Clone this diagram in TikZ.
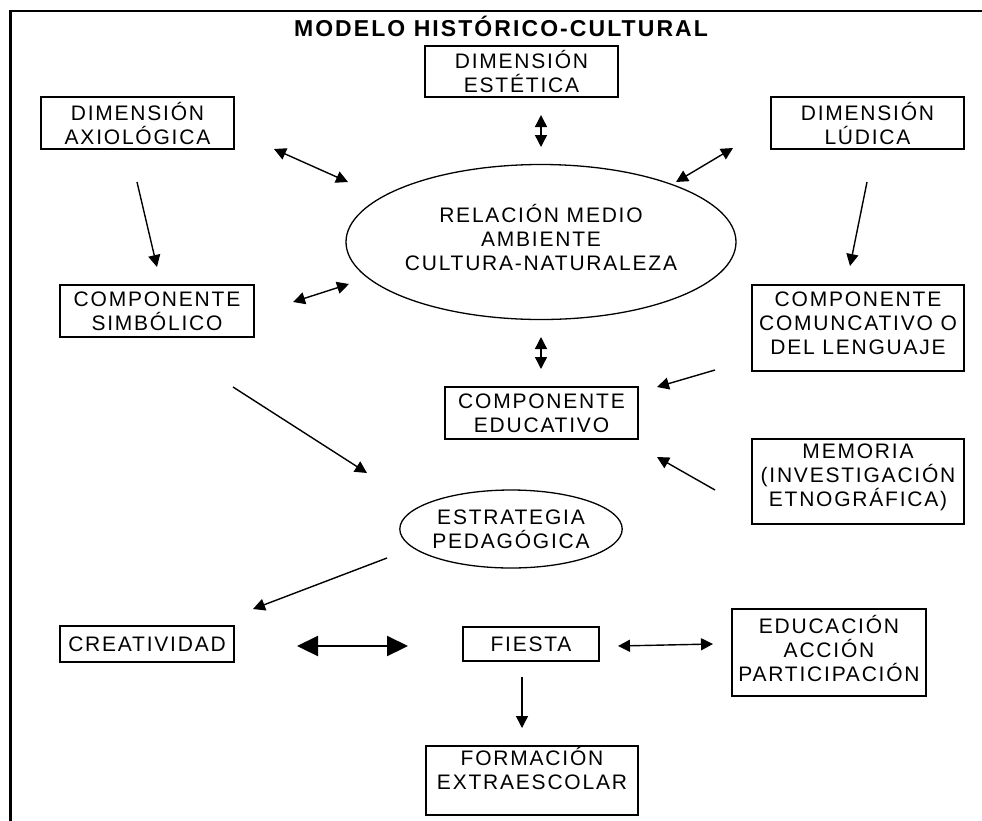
\documentclass[tikz,border=0pt]{standalone}
\usepackage{fontspec}
\setmainfont{Liberation Sans}[LetterSpace=8.5]
\usetikzlibrary{shapes.geometric,arrows.meta}
\begin{document}
\begin{tikzpicture}[x=1pt,y=-1pt,
  txt/.style={align=center,inner sep=0pt,font=\fontsize{21}{24}\selectfont},
  box/.style={txt,draw,line width=1.3pt},
  ell/.style={txt,draw,ellipse,line width=1.3pt},
  tip/.tip={Triangle[length=12pt,width=12pt]},
  arr/.style={line width=1.4pt,-tip},
  darr/.style={line width=1.4pt,tip-tip},
  bigarr/.style={line width=2.2pt,{Triangle[length=21pt,width=20pt]}-{Triangle[length=21pt,width=20pt]}}]
\useasboundingbox (0,0) rectangle (982,820);
\draw[line width=2.2pt] (983,11) -- (10.5,11) -- (10.5,821);

\node[font=\fontsize{23}{26}\bfseries\addfontfeatures{LetterSpace=9}\selectfont,inner sep=0pt] (title) at (501,26) {MODELO HISTÓRICO-CULTURAL};

\node[box,minimum width=193pt,minimum height=51pt] (est) at (521.5,71.5) {DIMENSIÓN\\ESTÉTICA};
\node[box,minimum width=193pt,minimum height=52pt] (axi) at (137.5,123) {DIMENSIÓN\\AXIOLÓGICA};
\node[box,minimum width=193pt,minimum height=52pt] (lud) at (867.5,123) {DIMENSIÓN\\LÚDICA};
\node[ell,minimum width=390pt,minimum height=155pt,text depth=10pt] (rel) at (541,242) {RELACIÓN MEDIO\\AMBIENTE\\CULTURA-NATURALEZA};
\node[box,minimum width=194pt,minimum height=52pt] (sim) at (157,311) {COMPONENTE\\SIMBÓLICO};
\node[box,minimum width=212pt,minimum height=86pt,text depth=10pt] (com) at (858,328) {COMPONENTE\\COMUNCATIVO O\\DEL LENGUAJE};
\node[box,minimum width=193pt,minimum height=52pt] (edu) at (541.5,413) {COMPONENTE\\EDUCATIVO};
\node[box,minimum width=212pt,minimum height=85pt,text depth=12pt] (mem) at (858,481.5) {MEMORIA\\(INVESTIGACIÓN\\ETNOGRÁFICA)};
\node[ell,minimum width=212pt,minimum height=78pt] (estr) at (511,529) {ESTRATEGIA\\PEDAGÓGICA};
\node[box,minimum width=174pt,minimum height=36pt] (cre) at (147,644) {CREATIVIDAD};
\node[box,minimum width=136pt,minimum height=34pt] (fie) at (531,644) {FIESTA};
\node[box,minimum width=194pt,minimum height=87pt,text depth=9pt] (eap) at (829,652.5) {EDUCACIÓN\\ACCIÓN\\PARTICIPACIÓN};
\node[box,minimum width=212pt,minimum height=69pt] (for) at (532,780.5) {FORMACIÓN\\EXTRAESCOLAR\\\mbox{}};

\coordinate (c1a) at (541,115);  \coordinate (c1b) at (541,147);
\coordinate (c2a) at (274,149);  \coordinate (c2b) at (348,182);
\coordinate (c3a) at (733,148);  \coordinate (c3b) at (676,182);
\coordinate (c4a) at (137,182);  \coordinate (c4b) at (157,267);
\coordinate (c5a) at (867,182);  \coordinate (c5b) at (850,266);
\coordinate (c6a) at (293,302);  \coordinate (c6b) at (349,284);
\coordinate (c7a) at (541,337);  \coordinate (c7b) at (541,369);
\coordinate (c8a) at (715,370);  \coordinate (c8b) at (657,387);
\coordinate (c9a) at (233,387);  \coordinate (c9b) at (367,473);
\coordinate (c10a) at (715,490); \coordinate (c10b) at (657,457);
\coordinate (c11a) at (387,558); \coordinate (c11b) at (253,609);
\coordinate (c12a) at (297,646); \coordinate (c12b) at (408,646);
\coordinate (c13a) at (618,646); \coordinate (c13b) at (713,644);
\coordinate (c14a) at (522,677); \coordinate (c14b) at (522,728);

\draw[darr] (c1a) -- (c1b);
\draw[darr] (c2a) -- (c2b);
\draw[darr] (c3a) -- (c3b);
\draw[arr] (c4a) -- (c4b);
\draw[arr] (c5a) -- (c5b);
\draw[darr] (c6a) -- (c6b);
\draw[darr] (c7a) -- (c7b);
\draw[arr] (c8a) -- (c8b);
\draw[arr] (c9a) -- (c9b);
\draw[arr] (c10a) -- (c10b);
\draw[arr] (c11a) -- (c11b);
\draw[bigarr] (c12a) -- (c12b);
\draw[darr] (c13a) -- (c13b);
\draw[arr] (c14a) -- (c14b);
\end{tikzpicture}
\end{document}
